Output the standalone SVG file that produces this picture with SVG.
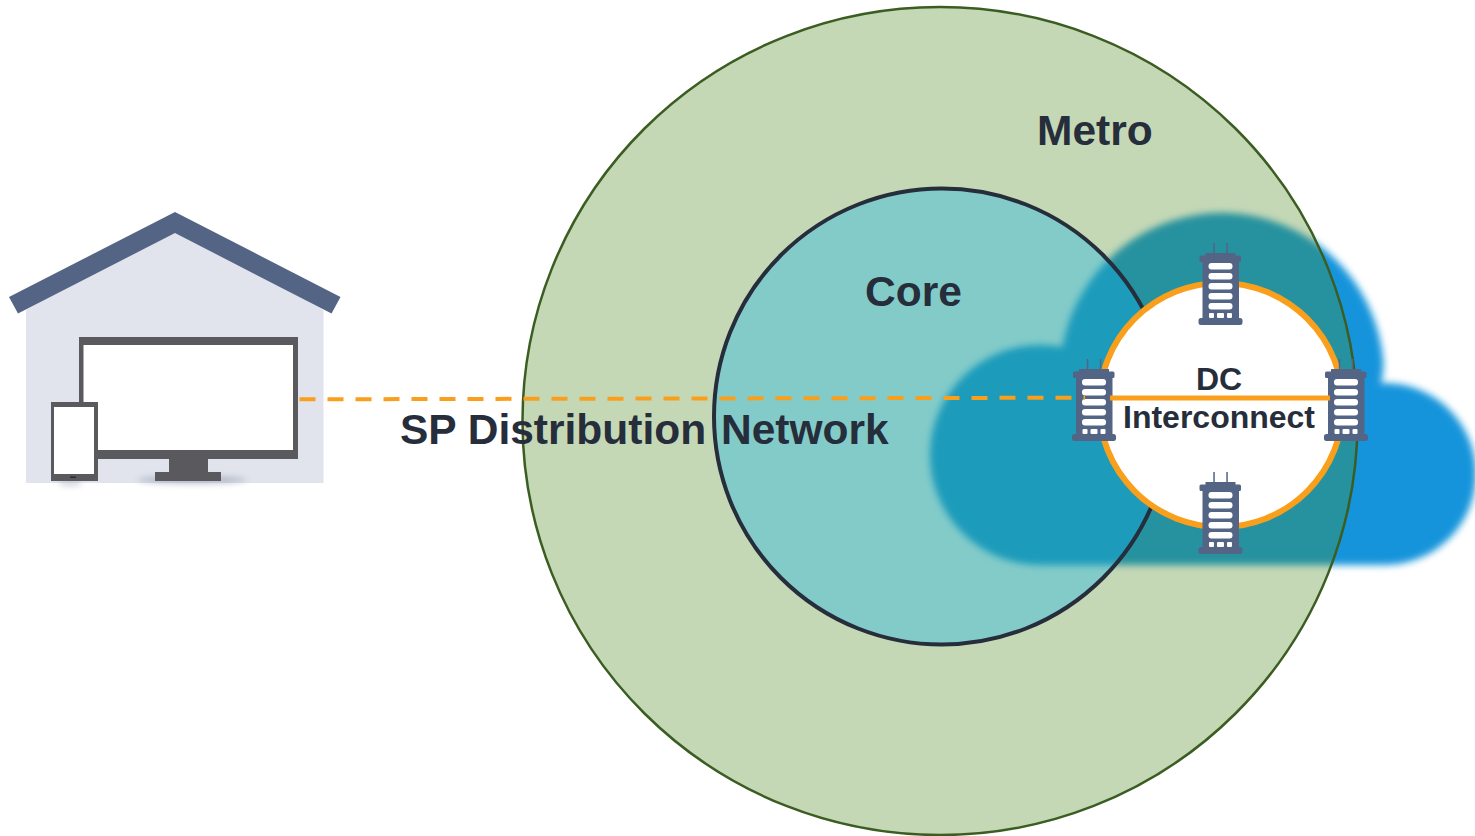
<svg xmlns="http://www.w3.org/2000/svg" width="1475" height="836" viewBox="0 0 1475 836">
<style>
.t{font-family:"Liberation Sans",Arial,sans-serif;font-weight:700;fill:#262D3B}
.b{fill:#536485}
.w{fill:#fff}
.dev{fill:#5A595E}
</style>
<defs>
<filter id="soft" x="-5%" y="-5%" width="110%" height="110%"><feGaussianBlur stdDeviation="3.500"/></filter>
<filter id="sh" x="-20%" y="-100%" width="140%" height="300%"><feGaussianBlur stdDeviation="3"/></filter>
<clipPath id="cm"><ellipse cx="940" cy="421" rx="417.500" ry="414"/></clipPath>
<clipPath id="cc"><circle cx="942" cy="416.500" r="228"/></clipPath>
<path id="cloud" d="M1040 565A110 110 0 0 1 1040 345Q1052 345 1062.400 347A162 162 0 0 1 1383.300 360Q1384 372 1381 384Q1383 383 1385 383A91 91 0 0 1 1385 565Z"/>
<g id="bld">
<path class="b" d="M1213.300 243h1.500v10h-1.500zM1226.300 243h1.500v10h-1.500z"/>
<path class="b" d="M1205.500 253H1235.500V255.500H1239.500Q1241 255.500 1241 257V260.500Q1241 262 1239.500 262H1239V318H1240Q1242.500 318 1242.500 320.500V322.500Q1242.500 325 1240 325H1201Q1198.500 325 1198.500 322.500V320.500Q1198.500 318 1201 318H1202.500V262H1201Q1199.500 262 1199.500 260.500V257Q1199.500 255.500 1201 255.500H1205.500Z"/>
<rect class="w" x="1208.500" y="263" width="24" height="6.500" rx="3"/>
<rect class="w" x="1208.500" y="273" width="24" height="6.500" rx="3"/>
<rect class="w" x="1208.500" y="283" width="24" height="6.500" rx="3"/>
<rect class="w" x="1208.500" y="293" width="24" height="6.500" rx="3"/>
<rect class="w" x="1208.500" y="303" width="24" height="6.500" rx="3"/>
<rect class="w" x="1209" y="313" width="5" height="5" rx="1"/>
<rect class="w" x="1217" y="313" width="7" height="5" rx="1"/>
<rect class="w" x="1227" y="313" width="5" height="5" rx="1"/>
</g>
</defs>
<g id="cloud-blue"><use href="#cloud" fill="#1394DB" filter="url(#soft)"/></g>
<g id="metro">
<ellipse cx="940" cy="421" rx="417.500" ry="414" fill="#C5D8B6"/>
<g clip-path="url(#cm)"><use href="#cloud" fill="#28929F" filter="url(#soft)"/></g>
<ellipse cx="940" cy="421" rx="417.500" ry="414" fill="none" stroke="#3B5D22" stroke-width="2.500"/>
<text class="t" x="1037" y="144.500" font-size="42.500">Metro</text>
</g>
<g id="core">
<circle cx="942" cy="416.500" r="228" fill="#83CBC9"/>
<g clip-path="url(#cc)"><use href="#cloud" fill="#1A9BBB" filter="url(#soft)"/></g>
<circle cx="942" cy="416.500" r="228" fill="none" stroke="#262D3B" stroke-width="4"/>
<text class="t" x="865" y="306" font-size="42.500">Core</text>
</g>
<g id="dc-ring">
<circle cx="1221" cy="405" r="122" fill="#fff" stroke="#F99F1C" stroke-width="6"/>
</g>
<g id="home">
<path d="M26 310L175 225L323.500 310V483H26Z" fill="#E1E4EC"/>
<path class="b" d="M175 212L340.500 297L331.500 313.500L175 233L18 313.500L9 297Z"/>
<ellipse cx="192" cy="480" rx="55" ry="3.500" fill="#8A93AB" opacity=".6" filter="url(#sh)"/>
<ellipse cx="70" cy="483" rx="12" ry="2.500" fill="#8A93AB" opacity=".5" filter="url(#sh)"/>
<path class="dev" d="M79 337H298V459H208V472H221V481H155V472H169V459H79Z"/>
<rect class="w" x="83.500" y="345" width="209.500" height="105"/>
<rect class="dev" x="51" y="402" width="47" height="79"/>
<rect class="w" x="54" y="407" width="40" height="67"/>
<rect x="70" y="476.500" width="6" height="1.500" fill="#2c2c30"/>
</g>
<g id="dc-top"><use href="#bld"/></g>
<g id="dc-bottom"><use href="#bld" y="229"/></g>
<g id="dc-left"><use href="#bld" x="-126.500" y="116"/></g>
<g id="dc-right"><use href="#bld" x="125.500" y="116"/></g>
<g id="connectors">
<path d="M299.500 399.300L1085 397.700" fill="none" stroke="#F99F1C" stroke-width="4" stroke-dasharray="16 12"/>
<path d="M1110 398H1330" fill="none" stroke="#F99F1C" stroke-width="5"/>
</g>
<text class="t" x="400" y="443.500" font-size="42.500">SP Distribution</text>
<text class="t" x="721" y="443.500" font-size="42.500">Network</text>
<text class="t" x="1219" y="390" font-size="32" text-anchor="middle">DC</text>
<text class="t" x="1219" y="428" font-size="32" text-anchor="middle">Interconnect</text>
</svg>
